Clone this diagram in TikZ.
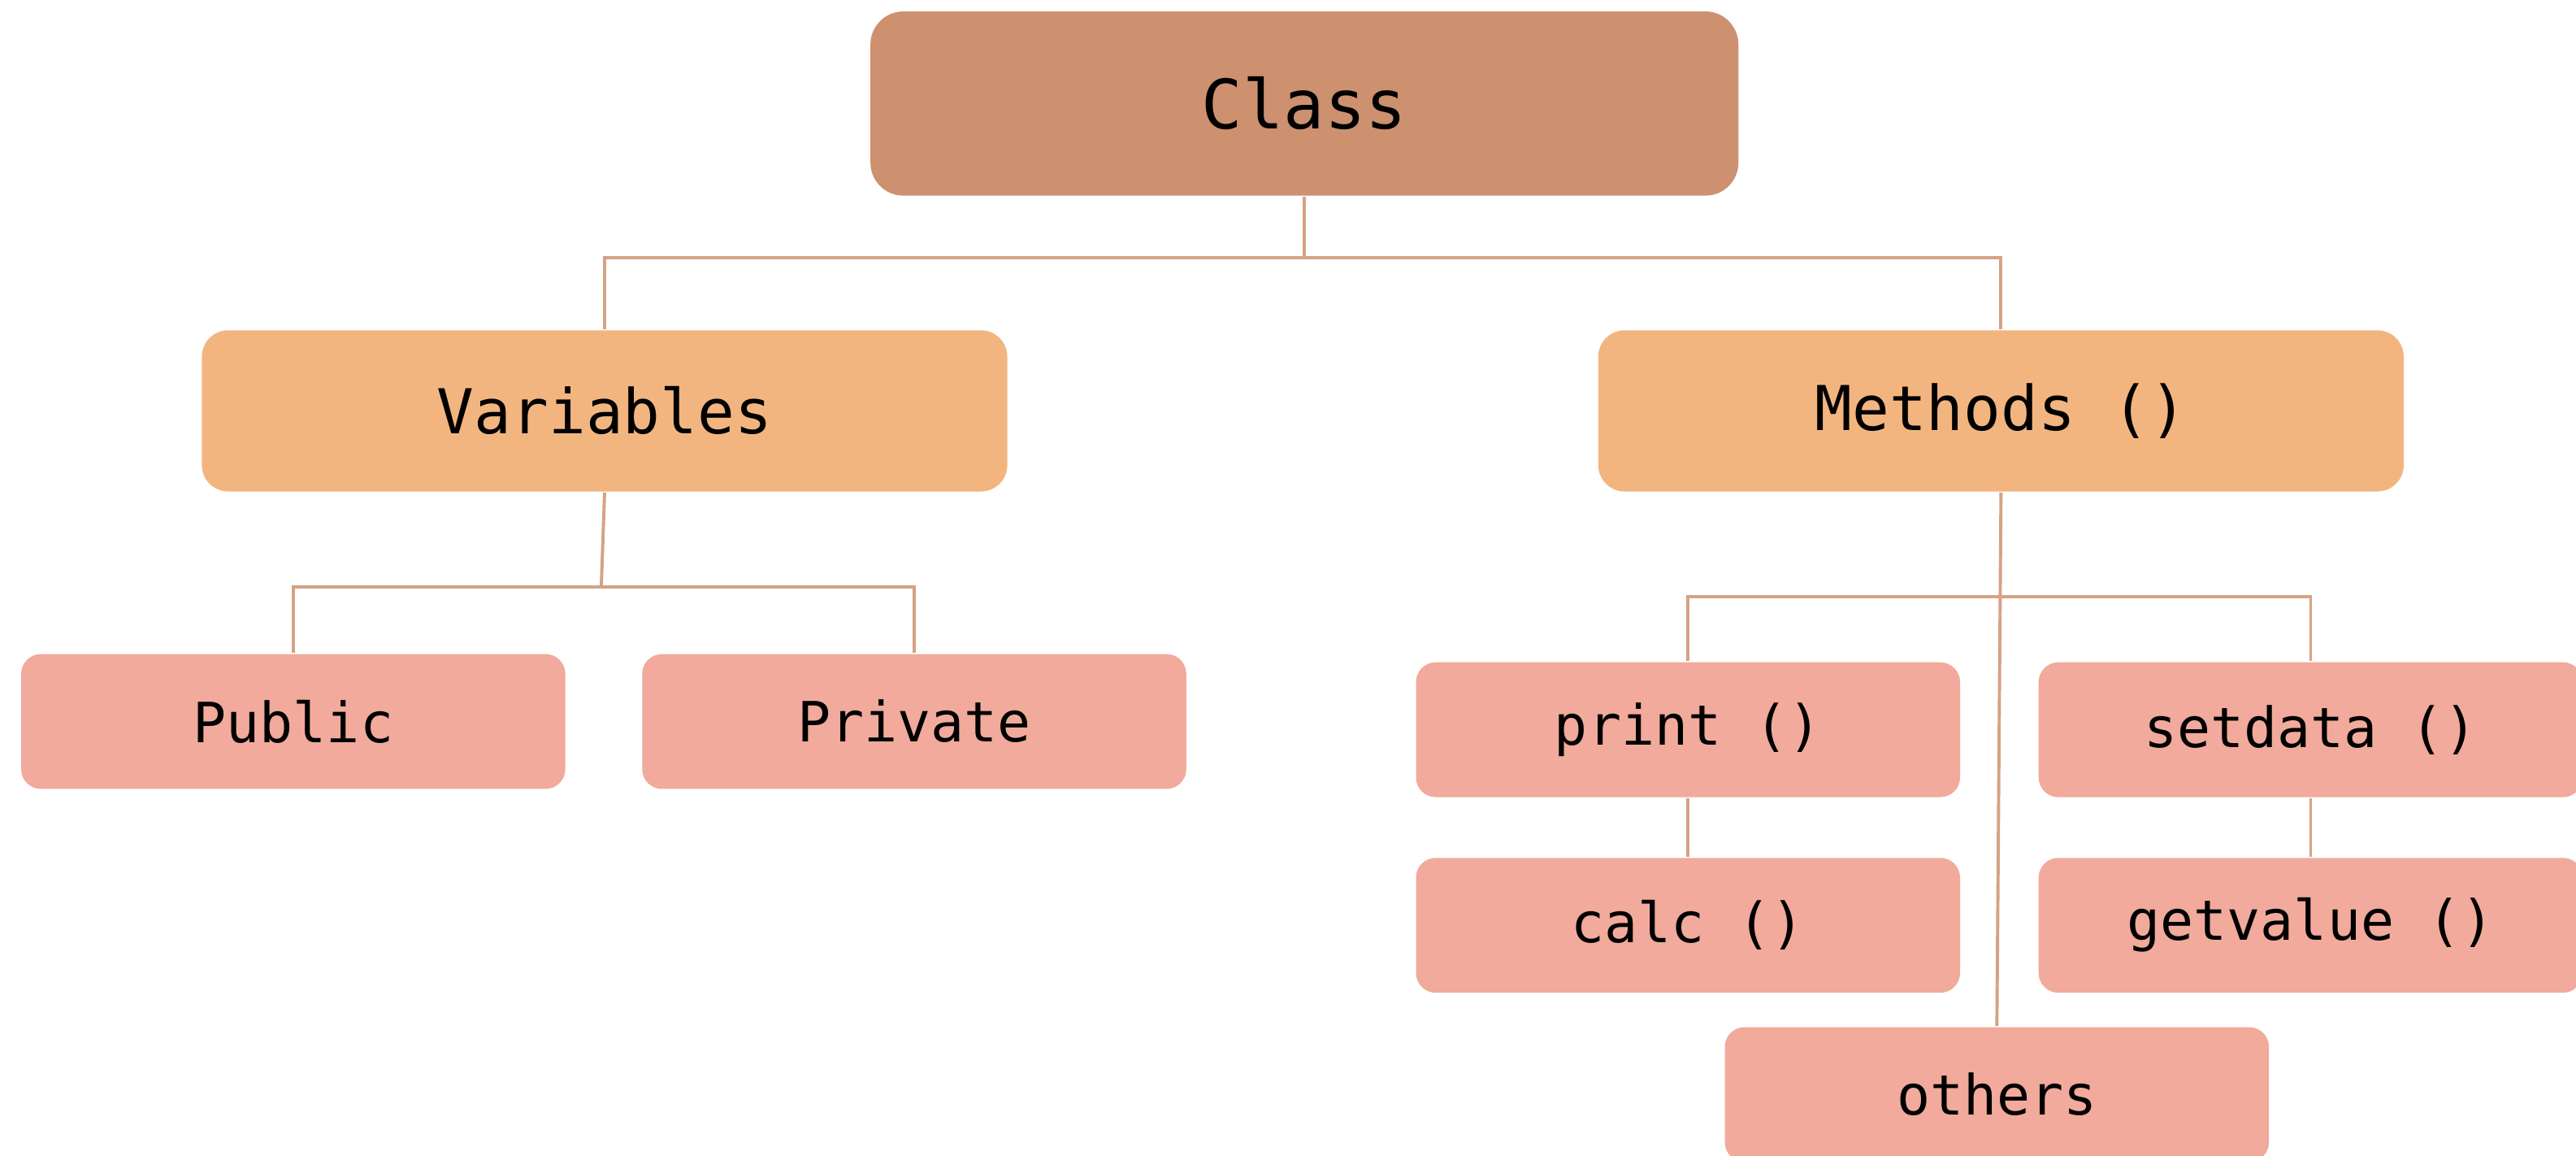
\documentclass[tikz,border=0pt]{standalone}
\usepackage{fontspec}
\newfontfamily\boxfont{DejaVu Sans Mono}
\usepackage{tikz}
\usetikzlibrary{calc}

\definecolor{classfill}{HTML}{CD9170}
\definecolor{groupfill}{HTML}{F3B580}
\definecolor{itemfill}{HTML}{F1AA9B}
\definecolor{linkcol}{HTML}{D6A285}

\begin{document}
\begin{tikzpicture}[
    x=0.01cm, y=-0.01cm,
    every node/.style={color=black},
    box/.style={inner sep=0pt, text=black},
    class box/.style={box, fill=classfill, rounded corners=0.2cm,
        minimum width=5.28cm, minimum height=1.12cm,
        font=\boxfont\fontsize{11.8}{14}\selectfont},
    group box/.style={box, fill=groupfill, rounded corners=0.16cm,
        minimum width=4.9cm, minimum height=0.98cm,
        font=\boxfont\fontsize{10.7}{13}\selectfont},
    item box/.style={box, fill=itemfill, rounded corners=0.12cm,
        minimum width=3.31cm, minimum height=0.82cm,
        font=\boxfont\fontsize{9.6}{12}\selectfont},
    link/.style={draw=linkcol, line width=0.55pt},
    ]

    \useasboundingbox (0,0) rectangle (1568,703);

    % define box centres
    \coordinate (pc) at (794,63);
    \coordinate (pv) at (368,250);
    \coordinate (pm) at (1218,250);
    \coordinate (p1) at (178.5,439); \coordinate (p2) at (556.5,439);
    \coordinate (p3) at (1027.5,444); \coordinate (p4) at (1406.5,444);
    \coordinate (p5) at (1027.5,563); \coordinate (p6) at (1406.5,563);
    \coordinate (p7) at (1215.5,666);
    % define branch points
    \coordinate (b1) at (794,157);
    \coordinate (b2) at (366,357);
    \coordinate (b3) at (1218,363);

    % boxes
    \node[class box] (class) at (pc) {Class};
    \node[group box] (vars) at (pv) {Variables};
    \node[group box] (meths) at (pm) {Methods ()};
    \node[item box] (public) at (p1) {Public};
    \node[item box] (private) at (p2) {Private};
    \node[item box] (print) at (p3) {print ()};
    \node[item box] (setdata) at (p4) {setdata ()};
    \node[item box] (calc) at (p5) {calc ()};
    \node[item box] (getvalue) at (p6) {getvalue ()};
    \node[item box] (others) at (p7) {others};

    % connectors
    \draw[link] (class.south) -- (b1);
    \draw[link] (vars.north) |- (b1) -| (meths.north);
    \draw[link] (vars.south) -- (b2);
    \draw[link] (public.north) |- (b2) -| (private.north);
    \draw[link] (meths.south) -- (others.north);
    \draw[link] (print.north) |- (b3) -| (setdata.north);
    \draw[link] (print.south) -- (calc.north);
    \draw[link] (setdata.south) -- (getvalue.north);
\end{tikzpicture}
\end{document}
